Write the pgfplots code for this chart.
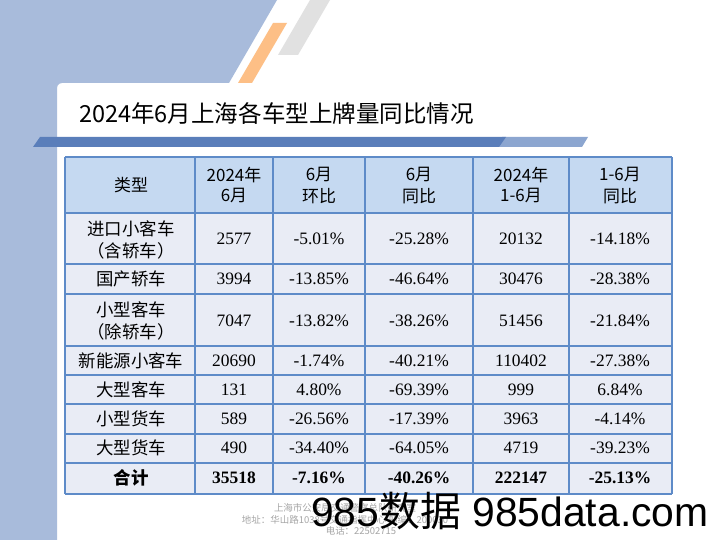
\documentclass[border=0pt]{standalone}
\usepackage{fontspec}
\setmainfont{Liberation Serif}
\newfontfamily\cjk{Noto Sans CJK SC}
\newfontfamily\wm{Liberation Sans}
\usepackage{pgfplots}
\usepackage{pgfplotstable}
\pgfplotsset{compat=1.18}

\definecolor{bgblue}{HTML}{A8BBDB}
\definecolor{stripeorange}{HTML}{FDBF86}
\definecolor{stripegray}{HTML}{E1E1E1}
\definecolor{bardark}{HTML}{5A7EBA}
\definecolor{barlight}{HTML}{8CA6D0}
\definecolor{headfill}{HTML}{C5D9F1}
\definecolor{bodyfill}{HTML}{E9ECF5}
\definecolor{gridblue}{HTML}{5E8BC8}
\definecolor{footgray}{HTML}{A6A6A6}

% header cells: x y label
\pgfplotstableread{
x y label
131 185 类型
234 175 2024年
234 196 6月
319 175 6月
319 196 环比
419 175 6月
419 196 同比
521 175 2024年
521 196 1-6月
620 175 1-6月
620 196 同比
}\headtbl

% vehicle types
\pgfplotstableread{
x y label
131 229 进口小客车
131 251 （含轿车）
131 279 国产轿车
131 310 小型客车
131 332 （除轿车）
131 361 新能源小客车
131 390 大型客车
131 419 小型货车
131 448 大型货车
}\nametbl

\pgfplotstableread{
x y label
131 478 合计
}\totalname

% values: 2024-06, MoM, YoY, 2024 H1, H1 YoY
\pgfplotstableread{
x y label
234 239 2577
319 239 -5.01\%
419 239 -25.28\%
521 239 20132
620 239 -14.18\%
234 279 3994
319 279 -13.85\%
419 279 -46.64\%
521 279 30476
620 279 -28.38\%
234 321 7047
319 321 -13.82\%
419 321 -38.26\%
521 321 51456
620 321 -21.84\%
234 361 20690
319 361 -1.74\%
419 361 -40.21\%
521 361 110402
620 361 -27.38\%
234 390 131
319 390 4.80\%
419 390 -69.39\%
521 390 999
620 390 6.84\%
234 419 589
319 419 -26.56\%
419 419 -17.39\%
521 419 3963
620 419 -4.14\%
234 448 490
319 448 -34.40\%
419 448 -64.05\%
521 448 4719
620 448 -39.23\%
}\valtbl

\pgfplotstableread{
x y label
234 478 35518
319 478 -7.16\%
419 478 -40.26\%
521 478 222147
620 478 -25.13\%
}\totaltbl

\begin{document}
\begin{tikzpicture}
\begin{axis}[
    width=720bp, height=540bp, scale only axis,
    xmin=0, xmax=720, ymin=0, ymax=540,
    y dir=reverse,
    hide axis,
    clip=false,
    unbounded coords=jump,
    cell/.style={only marks, mark=none, nodes near coords,
        point meta=explicit symbolic,
        nodes near coords style={anchor=center, inner sep=0pt, text=black}},
]

% page background and decorations
\addplot[fill=white, draw=none] coordinates {(0,0) (720,0) (720,540) (0,540)} -- cycle;
\addplot[fill=bgblue, draw=none] coordinates {(0,0) (277,0) (229,83) (62,83) (59.5,83.7) (57.7,85.5) (57,88) (57,540) (0,540)} -- cycle;
\addplot[fill=stripegray, draw=none] coordinates {(310,0) (330,0) (298,55) (278,55)} -- cycle;
\addplot[fill=stripeorange, draw=none] coordinates {(273,23) (287,23) (252,83) (238,83)} -- cycle;
\addplot[fill=barlight, draw=none] coordinates {(495,147) (502,137) (588,137) (582,147)} -- cycle;
\addplot[fill=bardark, draw=none] coordinates {(33,147) (40,137) (506,137) (499,147)} -- cycle;

% table fills
\addplot[fill=headfill, draw=none] coordinates {(65,157) (672,157) (672,213) (65,213)} -- cycle;
\addplot[fill=bodyfill, draw=none] coordinates {(65,213) (672,213) (672,494) (65,494)} -- cycle;

% grid
\addplot[gridblue, line width=1.2bp] coordinates {
    (65,157) (672,157) (nan,nan)
    (65,213) (672,213) (nan,nan)
    (65,264) (672,264) (nan,nan)
    (65,294) (672,294) (nan,nan)
    (65,346) (672,346) (nan,nan)
    (65,375) (672,375) (nan,nan)
    (65,404) (672,404) (nan,nan)
    (65,434) (672,434) (nan,nan)
    (65,463) (672,463) (nan,nan)
    (65,494) (672,494) (nan,nan)
    (65,157) (65,494) (nan,nan)
    (195,157) (195,494) (nan,nan)
    (273,157) (273,494) (nan,nan)
    (365,157) (365,494) (nan,nan)
    (473,157) (473,494) (nan,nan)
    (569,157) (569,494) (nan,nan)
    (672,157) (672,494)
};

% cell text
\addplot[cell, nodes near coords style={font=\cjk\fontsize{17}{20}\selectfont}]
    table[x=x, y=y, meta=label] {\headtbl};
\addplot[cell, nodes near coords style={font=\cjk\fontsize{17.5}{20}\selectfont}]
    table[x=x, y=y, meta=label] {\nametbl};
\addplot[cell, nodes near coords style={font=\cjk\fontsize{17.5}{20}\selectfont\bfseries}]
    table[x=x, y=y, meta=label] {\totalname};
\addplot[cell, nodes near coords style={font=\fontsize{17.5}{20}\selectfont}]
    table[x=x, y=y, meta=label] {\valtbl};
\addplot[cell, nodes near coords style={font=\fontsize{17.5}{20}\selectfont\bfseries}]
    table[x=x, y=y, meta=label] {\totaltbl};

% title
\node[anchor=west, inner sep=0pt, font=\cjk\fontsize{23.6}{26}\selectfont]
    at (axis cs:79,114) {2024年6月上海各车型上牌量同比情况};

% footer
\node[text=footgray, font=\cjk\fontsize{9.5}{11}\selectfont, inner sep=0pt]
    at (axis cs:345,508) {上海市公安局交通警察总队研究室};
\node[text=footgray, font=\cjk\fontsize{9.5}{11}\selectfont, inner sep=0pt]
    at (axis cs:345,520) {地址：华山路1038号交通指挥中心 邮编：200030};
\node[text=footgray, font=\cjk\fontsize{9.5}{11}\selectfont, inner sep=0pt]
    at (axis cs:361,531) {电话：22502715};

% watermark
\node[anchor=base west, inner sep=0pt, font=\wm\fontsize{41}{42}\selectfont]
    at (axis cs:311,526) {985{\cjk 数据} 985data.com};
\end{axis}
\end{tikzpicture}
\end{document}
